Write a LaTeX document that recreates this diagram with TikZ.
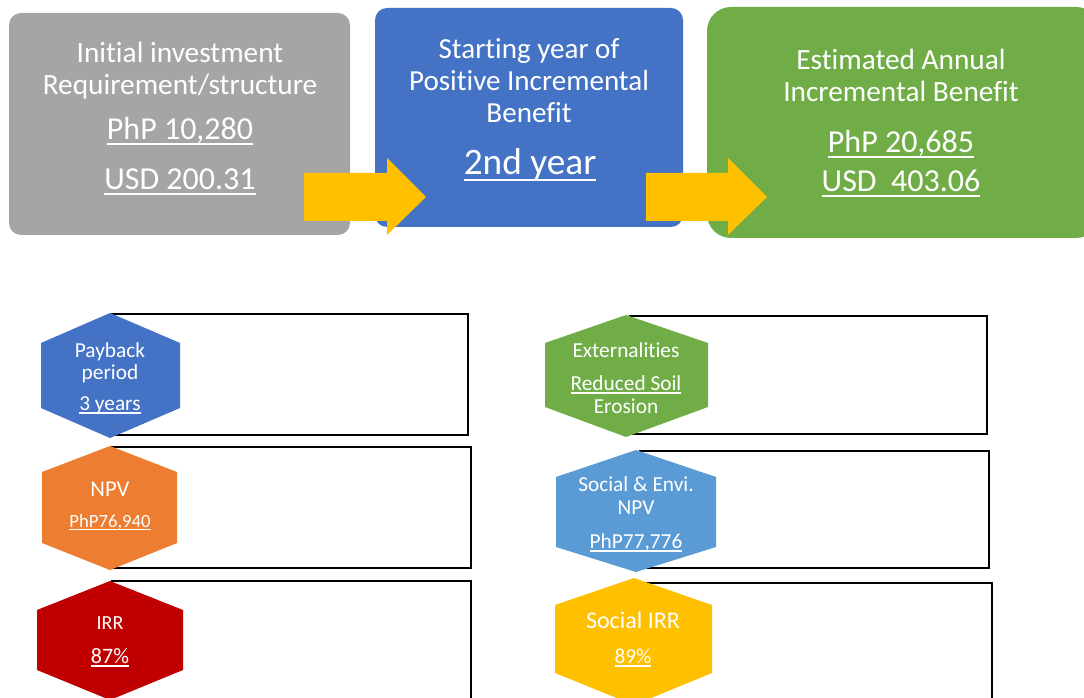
\documentclass[tikz,border=0pt]{standalone}
\usepackage{fontspec}
\setmainfont[Ligatures={NoCommon,NoDiscretionary,NoContextual}]{Carlito}
\newcommand\ulx[1]{\setbox0=\hbox{#1}\rlap{\copy0}\rule[-0.17em]{\wd0}{0.065em}}
\definecolor{cgray}{HTML}{A5A5A5}
\definecolor{cblue}{HTML}{4472C4}
\definecolor{cgreen}{HTML}{70AD47}
\definecolor{cyellow}{HTML}{FFC000}
\definecolor{corange}{HTML}{ED7D31}
\definecolor{cred}{HTML}{C00000}
\definecolor{clblue}{HTML}{5B9BD5}
\newcommand\fs[1]{\fontsize{#1}{#1}\selectfont}
\tikzset{
  txt/.style={text=white, inner sep=0pt, anchor=base},
  panel/.style={draw=black, line width=1.4pt, fill=white},
  bigarrow/.style={fill=cyellow, draw=none},
}
\begin{document}
\begin{tikzpicture}[x=0.75pt, y=-0.75pt]
\clip (0,0) rectangle (1084,698);
\fill[white] (0,0) rectangle (1084,698);

% top boxes
\fill[cgray, rounded corners=9pt] (9,13) rectangle (350,235);
\fill[cblue, rounded corners=9pt] (375,8) rectangle (683,227);
\fill[cgreen, rounded corners=18pt] (707,7) rectangle (1100,238);

% arrows
\fill[bigarrow] (304,173) -- (387,173) -- (387,158) -- (426,197) -- (387,235) -- (387,221) -- (304,221) -- cycle;
\fill[bigarrow] (646,173) -- (728,173) -- (728,158) -- (767,197) -- (728,235) -- (728,221) -- (646,221) -- cycle;

% gray box text
\node[txt, font=\fs{22}] (g1) at (180,63) {Initial investment};
\node[txt, font=\fs{22}] (g2) at (180,95) {Requirement/structure};
\node[txt, font=\fs{24}] (g3) at (180,140) {\ulx{PhP 10,280}};
\node[txt, font=\fs{24}] (g4) at (180,190) {\ulx{USD 200.31}};

% blue box text
\node[txt, font=\fs{21.8}] (b1) at (529,59) {Starting year of};
\node[txt, font=\fs{21.8}] (b2) at (529,91) {Positive Incremental};
\node[txt, font=\fs{21.8}] (b3) at (529,123) {Benefit};
\node[txt, font=\fs{28}] (b4) at (530,175) {\ulx{2nd year}};

% green box text
\node[txt, font=\fs{22}] (e1) at (901,70) {Estimated Annual};
\node[txt, font=\fs{22}] (e2) at (901,102) {Incremental Benefit};
\node[txt, font=\fs{24}] (e3) at (901,153) {\ulx{PhP 20,685}};
\node[txt, font=\fs{24}] (e4) at (901,192) {\ulx{USD\ \ 403.06}};

% panels
\draw[panel] (112,314) rectangle (468,435);
\draw[panel] (112,447) rectangle (471,568);
\draw[panel] (112,581) rectangle (471,730);
\draw[panel] (630,316) rectangle (987,434);
\draw[panel] (640,451) rectangle (989,568);
\draw[panel] (636,583) rectangle (992,730);

% hexagons
\fill[cblue]   (110,313) -- (180,343) -- (180,408) -- (110,438) -- (41,408) -- (41,343) -- cycle;
\fill[corange] (110,446) -- (177,472) -- (177,543) -- (110,570) -- (42,543) -- (42,472) -- cycle;
\fill[cred]    (110,581) -- (183,610) -- (183,670) -- (110,700) -- (37,670) -- (37,610) -- cycle;
\fill[cgreen]  (626,315) -- (708,343) -- (708,407) -- (626,437) -- (545,407) -- (545,343) -- cycle;
\fill[clblue]  (636,450) -- (716,477) -- (716,547) -- (636,572) -- (556,547) -- (556,477) -- cycle;
\fill[cyellow] (634,578) -- (712,605) -- (712,673) -- (634,705) -- (555,673) -- (555,605) -- cycle;

% hexagon texts
\node[txt, font=\fs{16}] (p1) at (110,357) {Payback};
\node[txt, font=\fs{16}] (p2) at (110,379) {period};
\node[txt, font=\fs{16}] (p3) at (110,410) {\ulx{3 years}};

\node[txt, font=\fs{17}] (n1) at (110,496) {NPV};
\node[txt, font=\fs{14}] (n2) at (110,527) {\ulx{PhP76,940}};

\node[txt, font=\fs{15}] (i1) at (110,629) {IRR};
\node[txt, font=\fs{16.5}] (i2) at (110,663) {\ulx{87\%}};

\node[txt, font=\fs{16}] (x1) at (626,358) {Externalities};
\node[txt, font=\fs{16}] (x2) at (626,390) {\ulx{Reduced Soil}};
\node[txt, font=\fs{16}] (x3) at (626,413) {Erosion};

\node[txt, font=\fs{16}] (s1) at (636,491) {Social \& Envi.};
\node[txt, font=\fs{16}] (s2) at (636,514) {NPV};
\node[txt, font=\fs{16}] (s3) at (636,548) {\ulx{PhP77,776}};

\node[txt, font=\fs{18}] (r1) at (633,628) {Social IRR};
\node[txt, font=\fs{16}] (r2) at (633,663) {\ulx{89\%}};
\end{tikzpicture}
\end{document}
